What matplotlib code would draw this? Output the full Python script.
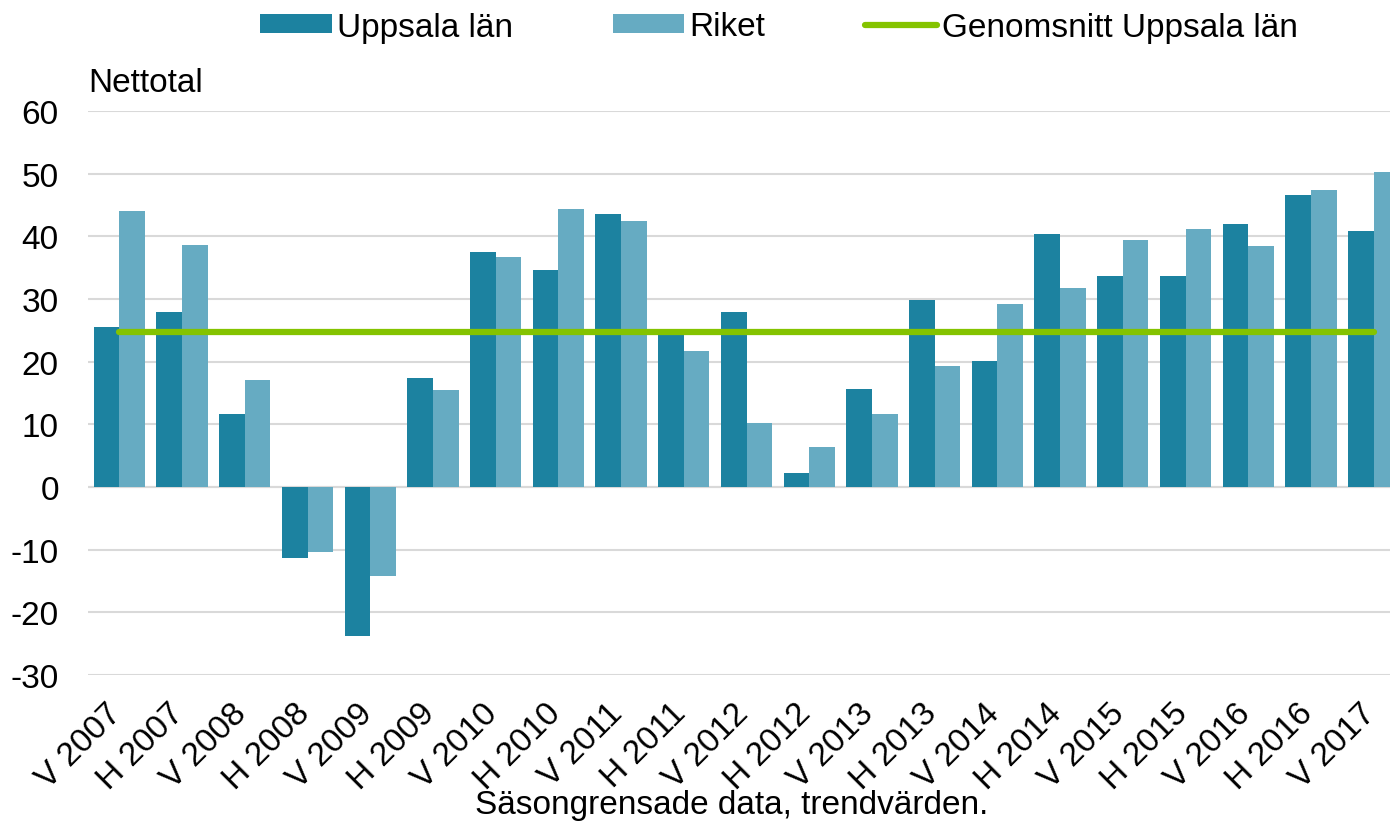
import numpy as np
import matplotlib
matplotlib.use("Agg")
import matplotlib.pyplot as plt
from matplotlib.transforms import ScaledTranslation

plt.rcParams['font.family'] = ['Liberation Sans', 'DejaVu Sans']
plt.rcParams['axes.unicode_minus'] = False

periods = ["V 2007", "H 2007", "V 2008", "H 2008", "V 2009", "H 2009", "V 2010",
           "H 2010", "V 2011", "H 2011", "V 2012", "H 2012", "V 2013", "H 2013",
           "V 2014", "H 2014", "V 2015", "H 2015", "V 2016", "H 2016", "V 2017"]
uppsala = [25.6, 27.9, 11.6, -11.4, -23.8, 17.4, 37.5, 34.7, 43.5, 24.9, 27.9,
           2.2, 15.7, 29.8, 20.1, 40.3, 33.6, 33.6, 41.9, 46.6, 40.8]
riket = [44.1, 38.6, 17.1, -10.4, -14.2, 15.5, 36.7, 44.4, 42.5, 21.7, 10.2,
         6.4, 11.6, 19.3, 29.2, 31.7, 39.4, 41.1, 38.4, 47.4, 50.2]
avg_uppsala = 24.8

c_upp = "#1c82a0"
c_rik = "#66abc2"
c_avg = "#84c300"
fs = 24

fig = plt.figure(figsize=(13.9, 8.29), dpi=100)
ax = fig.add_axes([88 / 1390, 1 - 676 / 829, 1317 / 1390, 564 / 829])

x = np.arange(len(periods))
w = 0.41
b1 = ax.bar(x - w / 2, uppsala, w, color=c_upp, label="Uppsala län", zorder=2)
b2 = ax.bar(x + w / 2, riket, w, color=c_rik, label="Riket", zorder=2)
ln, = ax.plot([x[0], x[-1]], [avg_uppsala, avg_uppsala], color=c_avg, lw=4.5,
              solid_capstyle='round', label="Genomsnitt Uppsala län", zorder=3)

ax.set_xlim(-0.5, len(periods) - 0.5)
ax.set_ylim(-30, 60)
ax.set_yticks(range(-30, 61, 10))
ax.yaxis.grid(True, color="#d9d9d9", lw=1.5, zorder=0)
ax.axhline(0, color="#d9d9d9", lw=1.5, zorder=1)
for s in ax.spines.values():
    s.set_visible(False)
ax.tick_params(axis='y', length=0, pad=21, labelsize=fs)
ax.tick_params(axis='x', length=0, pad=16, labelsize=fs)
ax.set_xticks(x)
ax.set_xticklabels(periods, rotation=45, ha='right', rotation_mode='anchor')
# nudge rotated labels so their upper end sits at the category centre
shift = ScaledTranslation(-10 / 72, 0, fig.dpi_scale_trans)
for lbl in ax.get_xticklabels():
    lbl.set_transform(lbl.get_transform() + shift)

fig.text(88 / 1390, 1 - 83 / 829, "Nettotal", fontsize=fs, va='center', ha='left')
fig.text(732 / 1390, 1 - 806 / 829, "Säsongrensade data, trendvärden.",
         fontsize=fs, va='center', ha='center')

fig.legend([b1, b2, ln], ["Uppsala län", "Riket", "Genomsnitt Uppsala län"],
           loc='center', bbox_to_anchor=(779 / 1390, 1 - 28 / 829), ncol=3,
           frameon=False, fontsize=fs, handlelength=2.15, handleheight=0.5,
           columnspacing=3.0, handletextpad=0.15)

fig.savefig("out.png", dpi=100)
